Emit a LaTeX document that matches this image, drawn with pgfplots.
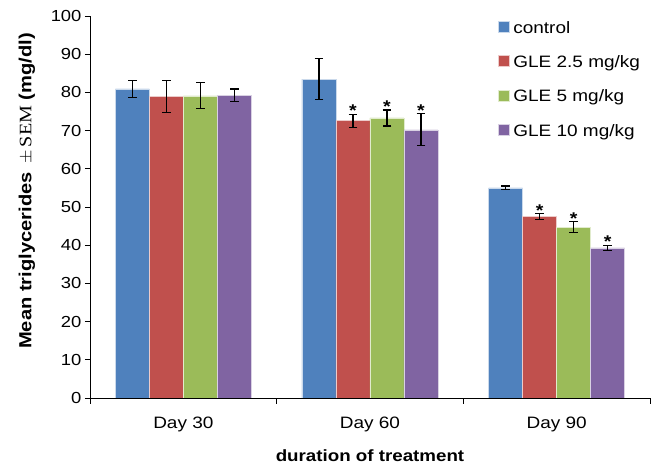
\documentclass[border=0pt]{standalone}
\usepackage{fontspec}
\setmainfont{Liberation Sans}[FakeStretch=1.15]
\newfontfamily\serif{Liberation Serif}[FakeStretch=1.15]
\usepackage{pgfplots}
\pgfplotsset{compat=1.18}
\definecolor{cA}{HTML}{4F81BD}
\definecolor{cB}{HTML}{C0504D}
\definecolor{cC}{HTML}{9BBB59}
\definecolor{cD}{HTML}{8064A2}
\begin{document}
\begin{tikzpicture}
\path (-90pt,-68pt) rectangle (567pt,398pt);
\begin{axis}[
  at={(0,0)}, anchor=south west, scale only axis,
  width=560pt, height=382pt,
  ybar=0pt, bar width=34pt,
  xmin=-0.5, xmax=2.5, ymin=0, ymax=100,
  axis lines*=left,
  axis line style={black, line width=0.7pt},
  xtick={0,1,2}, xticklabels={Day 30,Day 60,Day 90},
  major x tick style={draw=none},
  minor xtick={-0.5,0.5,1.5,2.5},
  ytick={0,10,...,100},
  tick align=outside,
  major tick length=5pt, minor tick length=6pt,
  tick style={black, line width=0.7pt},
  x tick label style={yshift=-10pt, font=\fontsize{16.5}{19}\selectfont},
  y tick label style={font=\fontsize{16}{19}\selectfont},
  /pgf/number format/assume math mode=true,
  xlabel={\bfseries duration of treatment},
  xlabel style={at={(axis description cs:0.5,0)}, anchor=center, yshift=-58pt, font=\fontsize{16.3}{19}\selectfont},
  ylabel={\bfseries Mean triglycerides {\serif\mdseries\,$\pm$\,SEM} (mg/dl)},
  ylabel style={at={(axis description cs:0,0.542)}, anchor=center, yshift=63pt, font=\fontsize{17.5}{20}\selectfont},
  legend style={at={(axis description cs:0.728,0.987)}, anchor=north west, draw=none, fill=none,
    font=\fontsize{16.5}{20}\selectfont, row sep=22pt, inner sep=0pt,
    nodes={inner sep=0pt, text depth=0pt}},
  legend cell align=left,
  legend image code/.code={\fill[#1] (0pt,-5pt) rectangle (11pt,6pt);},
  error bars/error bar style={black, line width=1.1pt},
  error bars/error mark options={black, line width=1.1pt, rotate=90, mark size=4.3pt},
  nodes near coords style={font=\fontsize{17}{20}\selectfont\bfseries, anchor=south, inner sep=0pt, yshift=-3pt},
]
\addplot[fill=cA, draw=white!70!cA, line width=0.5pt, bar shift=-51pt,
  error bars/.cd, y dir=both, y explicit]
  coordinates {(0,80.9) +- (0,2.3) (1,83.5) +- (0,5.3) (2,55.0) +- (0,0.5)};
\addplot[fill=cB, draw=white!70!cB, line width=0.5pt, bar shift=-17pt,
  error bars/.cd, y dir=both, y explicit]
  coordinates {(0,79.0) +- (0,4.2) (1,72.6) +- (0,1.7) (2,47.5) +- (0,0.8)};
\addplot[fill=cC, draw=white!70!cC, line width=0.5pt, bar shift=17pt,
  error bars/.cd, y dir=both, y explicit]
  coordinates {(0,79.1) +- (0,3.4) (1,73.3) +- (0,2.1) (2,44.7) +- (0,1.4)};
\addplot[fill=cD, draw=white!70!cD, line width=0.5pt, bar shift=51pt,
  error bars/.cd, y dir=both, y explicit]
  coordinates {(0,79.2) +- (0,1.7) (1,70.2) +- (0,4.2) (2,39.3) +- (0,0.6)};
\legend{\hspace{4pt}control, \hspace{4pt}GLE 2.5 mg/kg, \hspace{4pt}GLE 5 mg/kg, \hspace{4pt}GLE 10 mg/kg}
% significance stars
\addplot[draw=none, fill=none, bar shift=-17pt, forget plot, nodes near coords={*}]
  coordinates {(1,74.3) (2,48.3)};
\addplot[draw=none, fill=none, bar shift=17pt, forget plot, nodes near coords={*}]
  coordinates {(1,75.4) (2,46.2)};
\addplot[draw=none, fill=none, bar shift=51pt, forget plot, nodes near coords={*}]
  coordinates {(1,74.4) (2,40.0)};
\end{axis}
\end{tikzpicture}
\end{document}
